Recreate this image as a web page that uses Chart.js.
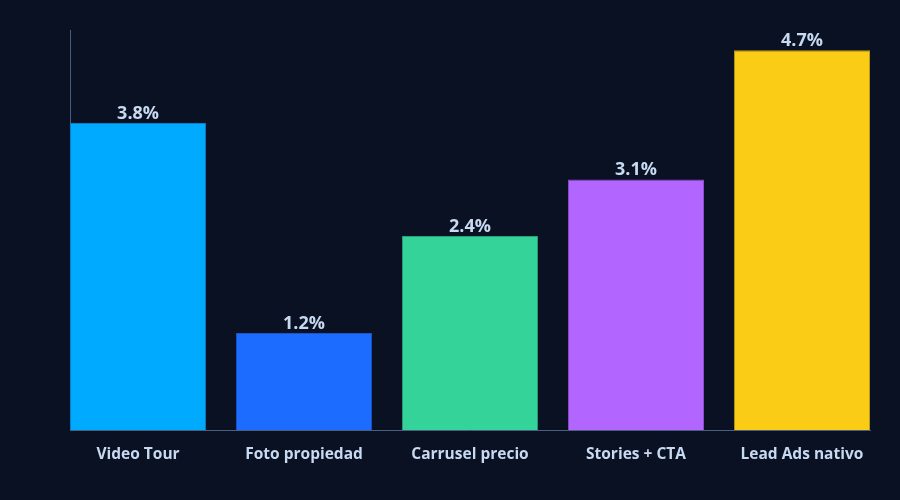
<!DOCTYPE html>
<html>
<head>
<meta charset="utf-8">
<script src="https://cdn.jsdelivr.net/npm/chart.js@4.4.1/dist/chart.umd.min.js"></script>
<style>
  html, body { margin: 0; padding: 0; background: #0a1122; }
  #wrap { width: 900px; height: 500px; }
</style>
</head>
<body>
<div id="wrap"><canvas id="c" width="900" height="500"></canvas></div>
<script>
const categories = ['Video Tour', 'Foto propiedad', 'Carrusel precio', 'Stories + CTA', 'Lead Ads nativo'];
const values = [3.8, 1.2, 2.4, 3.1, 4.7];
const barColors = ['#00aaff', '#1c6cff', '#34d399', '#b266ff', '#facc15'];
const borderColors = ['#0a7fc4', '#1a55c4', '#2a9e76', '#8a4ec4', '#b89a1a'];

const textColor = '#c8d9f2';
const axisColor = '#4a5e80';

const valueLabels = {
  id: 'valueLabels',
  afterDatasetsDraw(chart) {
    const ctx = chart.ctx;
    const meta = chart.getDatasetMeta(0);
    ctx.save();
    ctx.font = 'bold 18px "Open Sans"';
    ctx.fillStyle = textColor;
    ctx.textAlign = 'center';
    ctx.textBaseline = 'alphabetic';
    meta.data.forEach((bar, i) => {
      ctx.fillText(values[i].toFixed(1) + '%', bar.x, bar.y - 4);
    });
    ctx.restore();
  }
};

new Chart(document.getElementById('c'), {
  type: 'bar',
  data: {
    datasets: [{
      data: values.map((v, i) => ({ x: i, y: v })),
      backgroundColor: barColors,
      borderColor: borderColors,
      borderWidth: 1,
      barPercentage: 0.82,
      categoryPercentage: 1
    }]
  },
  options: {
    responsive: false,
    animation: false,
    layout: { padding: { left: 70, top: 30, right: 30, bottom: 0 } },
    plugins: { legend: { display: false }, tooltip: { enabled: false } },
    scales: {
      x: {
        type: 'linear',
        offset: false,
        min: -0.41,
        max: 4.41,
        grid: { display: false, offset: false, drawTicks: false },
        border: { display: true, color: axisColor, width: 1 },
        afterBuildTicks: (s) => { s.ticks = categories.map((c, i) => ({ value: i })); },
        afterFit: (s) => { s.height = 70; },
        ticks: {
          stepSize: 1,
          autoSkip: false,
          maxRotation: 0,
          padding: 15,
          color: textColor,
          font: { family: 'Open Sans', size: 15.5, weight: 'bold' },
          callback: (v) => (Number.isInteger(v) && v >= 0 && v < categories.length) ? categories[v] : ''
        }
      },
      y: {
        min: 0,
        max: 4.95,
        grid: { display: false, drawTicks: false },
        border: { display: true, color: axisColor, width: 1 },
        afterFit: (s) => { s.width = 0; },
        ticks: { display: false }
      }
    }
  },
  plugins: [valueLabels]
});
</script>
</body>
</html>
